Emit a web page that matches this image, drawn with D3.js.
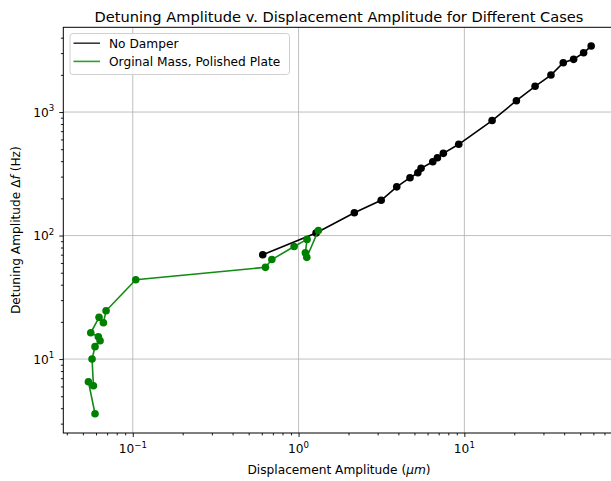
<!DOCTYPE html>
<html>
<head>
<meta charset="utf-8">
<script src="https://cdn.jsdelivr.net/npm/d3@7"></script>
<style>
  body { margin: 0; background: #fff; }
  text { font-family: "DejaVu Sans", sans-serif; }
</style>
</head>
<body>
<div id="chart"></div>
<script>
// data
const noDamperX = [0.608, 1.275, 2.17, 3.15, 3.91, 4.70, 5.24, 5.48, 6.45, 6.88, 7.47, 9.25,
  14.7, 20.6, 26.7, 33.3, 39.5, 45.6, 52.4, 58.2];
const noDamperY = [69.9, 104.8, 153, 193, 248, 294, 322, 350, 396, 427, 463, 548,
  853, 1235, 1615, 1993, 2506, 2671, 3020, 3422];

const polishedX = [0.0592, 0.0540, 0.0579, 0.0568, 0.0592, 0.0635, 0.0620, 0.0558, 0.0626,
  0.0665, 0.0690, 0.1042, 0.631, 0.690, 0.940, 1.125, 1.099, 1.121, 1.316];
const polishedY = [3.61, 6.55, 6.08, 10.0, 12.6, 14.07, 15.16, 16.33, 21.76,
  19.68, 24.6, 43.9, 55.3, 63.9, 81.5, 93.1, 72.6, 66.6, 109.8];

const seriesNames = ['No Damper', 'Orginal Mass, Polished Plate'];
const xMajor = [0.1, 1, 10];
const xMajorExp = ['\u22121', '0', '1'];
const yMajor = [10, 100, 1000];
const yMajorExp = ['1', '2', '3'];

const width = 611;
const height = 481;
const fs = 12.2; // base font size

const svg = d3.select('#chart')
  .append('svg')
  .attr('width', width)
  .attr('height', height);

const x = d3.scaleLog().domain([0.0381, 80.7]).range([63.3, 614.7]);
const y = d3.scaleLog().domain([2.52, 4853]).range([433, 27.3]);

const [pLeft, pRight] = x.range();
const [pBottom, pTop] = y.range();

// minor tick positions (2..9 per decade)
function minors(scale) {
  const [a, b] = scale.domain();
  const out = [];
  for (let e = Math.floor(Math.log10(a)); e <= Math.ceil(Math.log10(b)); e++) {
    for (let k = 2; k <= 9; k++) {
      const v = k * Math.pow(10, e);
      if (v >= a && v <= b) out.push(v);
    }
  }
  return out;
}

// grid
const grid = svg.append('g').attr('stroke', '#b0b0b0').attr('stroke-width', 0.8);
grid.selectAll('.gx').data(xMajor).join('line')
  .attr('x1', d => x(d)).attr('x2', d => x(d))
  .attr('y1', pTop).attr('y2', pBottom);
grid.selectAll('.gy').data(yMajor).join('line')
  .attr('y1', d => y(d)).attr('y2', d => y(d))
  .attr('x1', pLeft).attr('x2', pRight);

// series
const series = [
  { name: seriesNames[0], xs: noDamperX, ys: noDamperY, line: '#000000', dot: '#000000' },
  { name: seriesNames[1], xs: polishedX, ys: polishedY, line: '#138a13', dot: '#008000' }
];

const line = d3.line().x(d => x(d[0])).y(d => y(d[1]));

series.forEach(s => {
  const pts = s.xs.map((v, i) => [v, s.ys[i]]);
  const g = svg.append('g');
  g.append('path')
    .datum(pts)
    .attr('d', line)
    .attr('fill', 'none')
    .attr('stroke', s.line)
    .attr('stroke-width', 1.6);
  g.selectAll('circle')
    .data(pts)
    .join('circle')
    .attr('cx', d => x(d[0]))
    .attr('cy', d => y(d[1]))
    .attr('r', 3.8)
    .attr('fill', s.dot);
});

// axes (ticks only, labels drawn below)
const xAxis = svg.append('g').attr('transform', `translate(0,${pBottom})`);
xAxis.call(d3.axisBottom(x).tickValues(xMajor).tickSize(4).tickFormat(''));
xAxis.append('g').call(d3.axisBottom(x).tickValues(minors(x)).tickSize(2.4).tickFormat(''));
const yAxis = svg.append('g').attr('transform', `translate(${pLeft},0)`);
yAxis.call(d3.axisLeft(y).tickValues(yMajor).tickSize(4).tickFormat(''));
yAxis.append('g').call(d3.axisLeft(y).tickValues(minors(y)).tickSize(2.4).tickFormat(''));
svg.selectAll('.domain').remove();
svg.selectAll('.tick line').attr('stroke', '#000').attr('stroke-width', 0.9);

// frame
svg.append('rect')
  .attr('x', pLeft).attr('y', pTop)
  .attr('width', pRight - pLeft).attr('height', pBottom - pTop)
  .attr('fill', 'none').attr('stroke', '#000').attr('stroke-width', 1);

// tick labels with superscripts
xMajor.forEach((v, i) => {
  const t = svg.append('text')
    .attr('x', x(v)).attr('y', 453)
    .attr('text-anchor', 'middle')
    .attr('font-size', fs).attr('fill', '#000');
  t.append('tspan').text('10');
  t.append('tspan').attr('dy', -5.3).attr('font-size', 8.6).text(xMajorExp[i]);
});
yMajor.forEach((v, i) => {
  const t = svg.append('text')
    .attr('x', pLeft - 9).attr('y', y(v) + 4.6)
    .attr('text-anchor', 'end')
    .attr('font-size', fs).attr('fill', '#000');
  t.append('tspan').text('10');
  t.append('tspan').attr('dy', -5.3).attr('font-size', 8.6).text(yMajorExp[i]);
});

// title and axis labels
const cx = (pLeft + pRight) / 2;
svg.append('text')
  .attr('x', cx).attr('y', 22)
  .attr('text-anchor', 'middle')
  .attr('font-size', 14.6)
  .text('Detuning Amplitude v. Displacement Amplitude for Different Cases');

const xl = svg.append('text')
  .attr('x', cx).attr('y', 474)
  .attr('text-anchor', 'middle')
  .attr('font-size', fs);
xl.append('tspan').text('Displacement Amplitude (');
xl.append('tspan').attr('font-style', 'italic').text('\u03bcm');
xl.append('tspan').text(')');

const yl = svg.append('text')
  .attr('transform', `translate(20,${(pTop + pBottom) / 2}) rotate(-90)`)
  .attr('text-anchor', 'middle')
  .attr('font-size', fs);
yl.append('tspan').text('Detuning Amplitude \u0394');
yl.append('tspan').attr('font-style', 'italic').text('f');
yl.append('tspan').text(' (Hz)');

// legend
const legend = svg.append('g');
legend.append('rect')
  .attr('x', 70).attr('y', 33.5)
  .attr('width', 219.5).attr('height', 41)
  .attr('rx', 3)
  .attr('fill', '#fff').attr('fill-opacity', 0.8)
  .attr('stroke', '#d0d0d0').attr('stroke-width', 1);
const legendColors = ['#3a3a3a', '#2ca02c'];
seriesNames.forEach((name, i) => {
  const ly = 43.2 + i * 18.2;
  legend.append('line')
    .attr('x1', 73.5).attr('x2', 100)
    .attr('y1', ly).attr('y2', ly)
    .attr('stroke', legendColors[i]).attr('stroke-width', 1.6);
  legend.append('text')
    .attr('x', 109).attr('y', ly + 4.4)
    .attr('font-size', fs)
    .text(name);
});
</script>
</body>
</html>
